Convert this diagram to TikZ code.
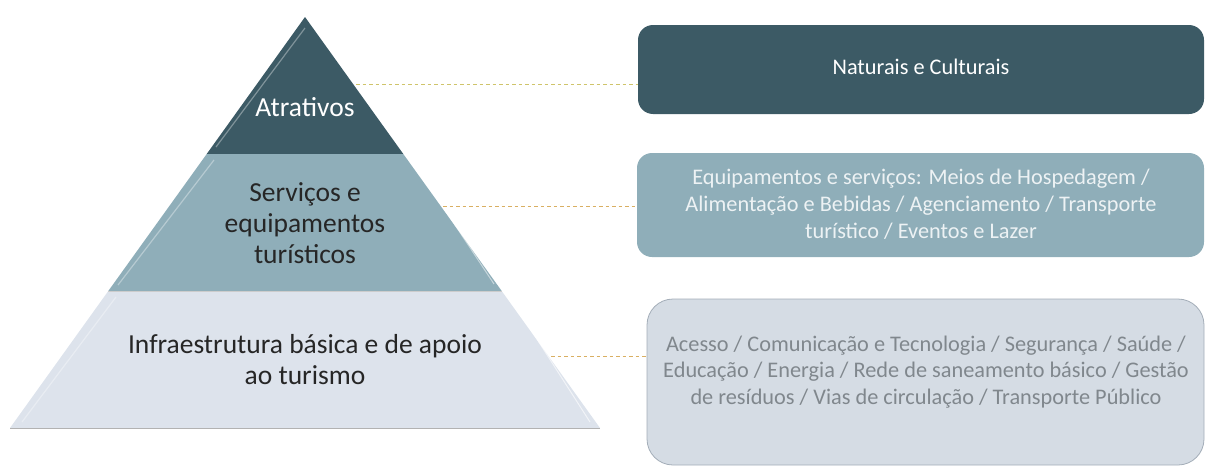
\documentclass[tikz,border=0pt]{standalone}
\usepackage{fontspec}
\setmainfont{Carlito}
\definecolor{tierA}{HTML}{3C5A65}
\definecolor{tierB}{HTML}{8FAEB9}
\definecolor{tierC}{HTML}{DDE3EC}
\definecolor{boxC}{HTML}{D5DCE4}
\definecolor{boxCline}{HTML}{A3ADB8}
\definecolor{dashcol}{HTML}{D9AF62}
\definecolor{dashtop}{HTML}{CFC46A}
\definecolor{txtB}{HTML}{EDF2F4}
\definecolor{txtC}{HTML}{80878D}
\begin{document}
\begin{tikzpicture}[x=1pt,y=-1pt,
  tiertext/.style={font=\fontsize{27.5}{31}\selectfont, align=center, inner sep=0pt},
  boxtext/.style={font=\fontsize{22.3}{26.8}\selectfont, align=center, inner sep=0pt},
  leader/.style={draw=dashcol, dash pattern=on 3.5pt off 3pt, line width=0.8pt},
  bevel/.style={draw=white, opacity=0.35, line width=1.2pt}]
\useasboundingbox (0,0) rectangle (1205,466);
% pyramid tiers
\coordinate (apex) at (305,17);
\coordinate (aL) at (206.7,154); \coordinate (aR) at (403.3,154);
\coordinate (bL) at (108.3,291); \coordinate (bR) at (501.7,291);
\coordinate (cL) at (10,428);    \coordinate (cR) at (600,428);
\fill[tierA] (apex) -- (aR) -- (aL) -- cycle;
\fill[tierB] (aL) -- (aR) -- (bR) -- (bL) -- cycle;
\fill[tierC] (bL) -- (bR) -- (cR) -- (cL) -- cycle;
% bevel highlights
\draw[bevel] (305,28) -- (216,147);
\draw[bevel] (214,160) -- (118,285);
\draw[bevel] (116,297) -- (22,422);
\draw[draw=white,opacity=0.5,line width=1pt] (412,160) -- (494,284);
\draw[draw=white,opacity=0.6,line width=1pt] (510,297) -- (590,422);
\draw[draw=black!30,line width=0.8pt] (cL) -- (cR);
\draw[draw=black!20,line width=0.6pt] (bL) -- (bR);
% tier texts
\node[tiertext, text=white] (tA) at (305,107) {Atrativos};
\node[tiertext, text=black!85] (tB) at (305,223) {Serviços e\\equipamentos\\turísticos};
\node[tiertext, text=black!85] (tC) at (305,360) {Infraestrutura básica e de apoio\\ao turismo};
% boxes
\fill[tierA, rounded corners=15pt] (638,25) rectangle (1204,114);
\fill[tierB, rounded corners=15pt] (637,153) rectangle (1204,257);
\filldraw[fill=boxC, draw=boxCline, line width=0.8pt, rounded corners=26pt] (647,299) rectangle (1204,465);
\coordinate (b1) at (638,84);
\coordinate (b2) at (637,206);
\coordinate (b3) at (647,356);
\node[boxtext, text=white] (n1) at (921,67) {Naturais e Culturais};
\node[boxtext, text=txtB] (n2) at (921,204) {Equipamentos e serviços: Meios de Hospedagem /\\Alimentação e Bebidas / Agenciamento / Transporte\\turístico / Eventos e Lazer};
\node[boxtext, text=txtC] (n3) at (926,372) {Acesso / Comunicação e Tecnologia / Segurança / Saúde /\\Educação / Energia / Rede de saneamento básico / Gestão\\de resíduos / Vias de circulação / Transporte Público};
% leaders
\coordinate (l1) at (356,84);
\coordinate (l2) at (443,206);
\coordinate (l3) at (551,356);
\draw[leader, draw=dashtop] (l1) -- (b1);
\draw[leader] (l2) -- (b2);
\draw[leader] (l3) -- (b3);
\end{tikzpicture}
\end{document}
